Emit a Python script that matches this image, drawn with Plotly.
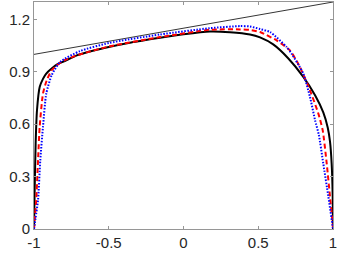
import plotly.graph_objects as go

# Reference (thin) line
ref_x = [-1, 1]
ref_y = [1.0, 1.3]

# Black solid curve
black_x = [-1, -0.996, -0.989, -0.98, -0.962, -0.94, -0.918, -0.88, -0.84, -0.784, -0.714, -0.6, -0.5, -0.35,
           -0.157, 0, 0.177, 0.311, 0.445, 0.512, 0.6, 0.7, 0.8, 0.88, 0.935, 0.965, 0.98, 0.991, 0.998, 1]
black_y = [0, 0.2, 0.49, 0.68, 0.813, 0.86, 0.89, 0.92, 0.945, 0.966, 0.994, 1.022, 1.042, 1.068,
           1.095, 1.115, 1.131, 1.127, 1.114, 1.097, 1.057, 0.978, 0.873, 0.766, 0.668, 0.58, 0.5, 0.375, 0.185, 0]

# Red dashed curve
red_x = [-1, -0.993, -0.985, -0.973, -0.962, -0.94, -0.915, -0.882, -0.85, -0.8, -0.7, -0.5, -0.157, 0.177,
         0.378, 0.445, 0.512, 0.623, 0.712, 0.779, 0.846, 0.902, 0.931, 0.958, 0.98, 0.998, 1]
red_y = [0, 0.08, 0.166, 0.394, 0.585, 0.775, 0.851, 0.909, 0.935, 0.965, 0.998, 1.045, 1.099, 1.141,
         1.143, 1.14, 1.128, 1.08, 1.023, 0.927, 0.794, 0.661, 0.566, 0.375, 0.185, 0.03, 0]

# Blue dotted curve
blue_x = [-1, -0.99, -0.973, -0.958, -0.94, -0.918, -0.882, -0.826, -0.692, -0.5, -0.157, 0.177, 0.378,
          0.445, 0.512, 0.579, 0.69, 0.723, 0.801, 0.846, 0.88, 0.905, 0.935, 0.969, 0.998, 1]
blue_y = [0, 0.06, 0.166, 0.394, 0.585, 0.775, 0.88, 0.956, 1.019, 1.065, 1.114, 1.15, 1.162,
          1.16, 1.145, 1.128, 1.042, 1.004, 0.89, 0.756, 0.623, 0.54, 0.375, 0.185, 0.013, 0]

x_ticks = [-1, -0.5, 0, 0.5, 1]
x_tick_labels = ["-1", "-0.5", "0", "0.5", "1"]
y_ticks = [0, 0.3, 0.6, 0.9, 1.2]
y_tick_labels = ["0", "0.3", "0.6", "0.9", "1.2"]

fig = go.Figure()
fig.add_trace(go.Scatter(x=ref_x, y=ref_y, mode="lines",
                         line=dict(color="black", width=0.8)))
fig.add_trace(go.Scatter(x=black_x, y=black_y, mode="lines",
                         line=dict(color="black", width=2, shape="spline", smoothing=0.6)))
fig.add_trace(go.Scatter(x=red_x, y=red_y, mode="lines",
                         line=dict(color="red", width=2, dash="5px,3px", shape="spline", smoothing=0.6)))
fig.add_trace(go.Scatter(x=blue_x, y=blue_y, mode="lines",
                         line=dict(color="blue", width=2, dash="1.5px,1.5px", shape="spline", smoothing=0.6)))

axis_common = dict(showgrid=False, zeroline=False, showline=True, mirror="ticks",
                   linecolor="rgb(150,150,150)", linewidth=1, ticks="inside", ticklen=3,
                   tickcolor="rgb(150,150,150)",
                   tickfont=dict(family="Liberation Sans, Arial, sans-serif", size=15, color="#262626"))

fig.update_xaxes(range=[-1, 1], tickvals=x_ticks, ticktext=x_tick_labels, **axis_common)
fig.update_yaxes(range=[0, 1.3], tickvals=y_ticks, ticktext=y_tick_labels, **axis_common)

fig.update_layout(width=338, height=254, margin=dict(l=34, r=5, t=2, b=25),
                  plot_bgcolor="white", paper_bgcolor="white", showlegend=False)

fig.write_html("out.html", config={"displayModeBar": False},
               post_script="document.body.style.margin='0';document.body.style.overflow='hidden';")
